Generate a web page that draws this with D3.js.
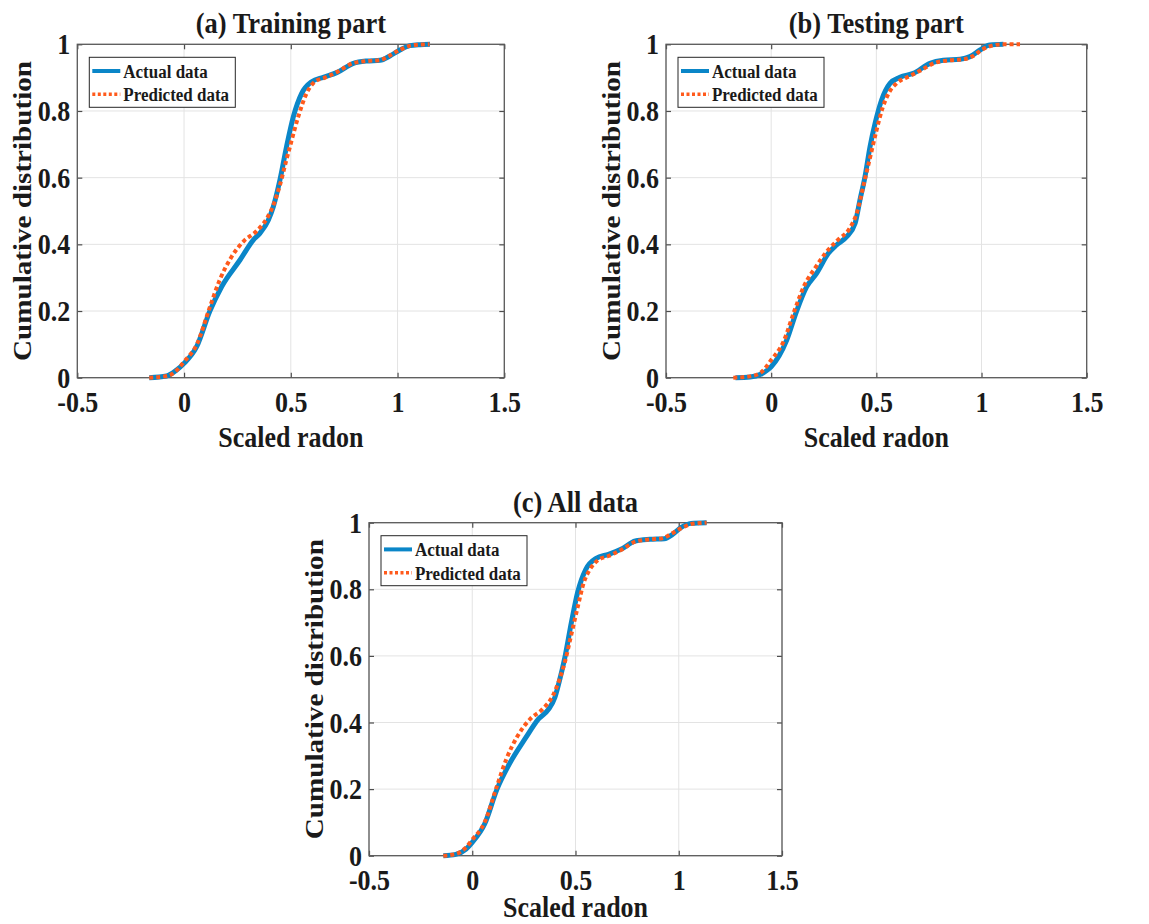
<!DOCTYPE html>
<html>
<head>
<meta charset="utf-8">
<script src="https://cdn.jsdelivr.net/npm/d3@7"></script>
<style>
  body { margin: 0; background: #fff; }
  svg text { font-family: 'Liberation Serif', 'Times New Roman', serif; font-weight: bold; fill: #1a1a1a; }
</style>
</head>
<body>
<div id="chart"></div>
<script>
// axis ticks
const xTicks = [-0.5, 0, 0.5, 1, 1.5];
const xTickLabels = ['-0.5', '0', '0.5', '1', '1.5'];
const yTicks = [0, 0.2, 0.4, 0.6, 0.8, 1];
const yTickLabels = ['0', '0.2', '0.4', '0.6', '0.8', '1'];

const seriesNames = ['Actual data', 'Predicted data'];
const panelTitles = ['(a) Training part', '(b) Testing part', '(c) All data'];
const xLabel = 'Scaled radon';
const yLabel = 'Cumulative distribution';

// (a) training
const trainActualX = [-0.163, -0.082, -0.035, 0.0, 0.059, 0.121, 0.176, 0.262, 0.324, 0.355, 0.395, 0.418, 0.449, 0.48, 0.512, 0.551, 0.598, 0.652, 0.715, 0.793, 0.855, 0.918, 0.964, 1.011, 1.058, 1.105, 1.152];
const trainActualY = [0, 0.005, 0.023, 0.043, 0.093, 0.2, 0.273, 0.353, 0.413, 0.433, 0.473, 0.513, 0.593, 0.693, 0.783, 0.853, 0.888, 0.901, 0.915, 0.943, 0.95, 0.952, 0.965, 0.983, 0.996, 0.999, 1];
const trainPredX = [-0.163, -0.08, -0.03, 0.0, 0.06, 0.12, 0.165, 0.22, 0.28, 0.34, 0.39, 0.42, 0.45, 0.478, 0.496, 0.535, 0.574, 0.613, 0.66, 0.72, 0.79, 0.86, 0.92, 0.96, 1.01, 1.06, 1.1, 1.15];
const trainPredY = [0, 0.005, 0.025, 0.048, 0.1, 0.21, 0.29, 0.36, 0.41, 0.44, 0.48, 0.52, 0.58, 0.65, 0.693, 0.783, 0.853, 0.888, 0.9, 0.918, 0.943, 0.95, 0.953, 0.965, 0.983, 0.996, 0.999, 1];

// (b) testing
const testActualX = [-0.17, -0.1, -0.05, -0.02, 0.0, 0.074, 0.121, 0.169, 0.216, 0.272, 0.311, 0.359, 0.399, 0.422, 0.446, 0.47, 0.494, 0.525, 0.565, 0.612, 0.676, 0.755, 0.818, 0.898, 0.945, 0.993, 1.04, 1.104];
const testActualY = [0, 0.002, 0.01, 0.022, 0.033, 0.113, 0.2, 0.273, 0.313, 0.373, 0.398, 0.423, 0.463, 0.533, 0.603, 0.693, 0.763, 0.833, 0.883, 0.901, 0.913, 0.943, 0.952, 0.955, 0.963, 0.983, 0.998, 1];
const testPredX = [-0.18, -0.1, -0.05, 0.0, 0.06, 0.11, 0.16, 0.21, 0.26, 0.32, 0.37, 0.41, 0.44, 0.47, 0.5, 0.53, 0.56, 0.6, 0.66, 0.72, 0.78, 0.85, 0.92, 0.96, 1.0, 1.05, 1.1, 1.183];
const testPredY = [0, 0.004, 0.015, 0.053, 0.11, 0.2, 0.28, 0.33, 0.375, 0.415, 0.445, 0.5, 0.58, 0.66, 0.74, 0.81, 0.855, 0.885, 0.905, 0.925, 0.945, 0.952, 0.956, 0.965, 0.983, 0.996, 1, 1];

// (c) all data
const allActualX = [-0.14, -0.08, -0.03, 0.0, 0.06, 0.12, 0.175, 0.26, 0.32, 0.37, 0.4, 0.42, 0.45, 0.48, 0.51, 0.55, 0.6, 0.66, 0.72, 0.79, 0.86, 0.93, 0.97, 1.01, 1.06, 1.135];
const allActualY = [0, 0.004, 0.02, 0.04, 0.095, 0.2, 0.27, 0.355, 0.41, 0.44, 0.475, 0.52, 0.6, 0.7, 0.79, 0.86, 0.893, 0.905, 0.92, 0.945, 0.95, 0.952, 0.965, 0.985, 0.998, 1];
const allPredX = [-0.14, -0.08, -0.03, 0.0, 0.06, 0.12, 0.165, 0.22, 0.28, 0.34, 0.39, 0.42, 0.45, 0.48, 0.51, 0.54, 0.57, 0.61, 0.66, 0.72, 0.79, 0.86, 0.92, 0.96, 1.01, 1.06, 1.1, 1.135];
const allPredY = [0, 0.005, 0.025, 0.048, 0.1, 0.21, 0.29, 0.36, 0.41, 0.44, 0.48, 0.525, 0.585, 0.665, 0.745, 0.82, 0.86, 0.888, 0.9, 0.918, 0.943, 0.95, 0.953, 0.965, 0.983, 0.996, 0.999, 1];

const blue = '#0a86c8';
const orange = '#ff5a1c';
// the original figure is a bit taller than wide, stretch text to match
const stretch = 1.12;

const svg = d3.select('#chart').append('svg')
  .attr('width', 1149)
  .attr('height', 924);

const panels = [
  { left: 77.3, top: 44.3, width: 427, height: 333.4, title: panelTitles[0], xlab: 69,
    actual: [trainActualX, trainActualY], pred: [trainPredX, trainPredY] },
  { left: 666, top: 44.3, width: 420.7, height: 333.4, title: panelTitles[1], xlab: 69,
    actual: [testActualX, testActualY], pred: [testPredX, testPredY] },
  { left: 369, top: 522.7, width: 413, height: 333, title: panelTitles[2], xlab: 61,
    actual: [allActualX, allActualY], pred: [allPredX, allPredY] }
];

function zip(xs, ys) {
  return xs.map(function(x, i) { return [x, ys[i]]; });
}

function stretchedText(g, x, y, size, txt) {
  return g.append('text')
    .attr('transform', 'translate(' + x + ',' + y + ') scale(1,' + stretch + ')')
    .style('font-size', size + 'px')
    .text(txt);
}

function drawPanel(p) {
  const g = svg.append('g')
    .attr('transform', 'translate(' + p.left + ',' + p.top + ')');

  const x = d3.scaleLinear().domain([-0.5, 1.5]).range([0, p.width]);
  const y = d3.scaleLinear().domain([0, 1]).range([p.height, 0]);

  // grid
  g.selectAll('.gx').data(xTicks).enter().append('line')
    .attr('x1', d => x(d)).attr('x2', d => x(d))
    .attr('y1', 0).attr('y2', p.height)
    .attr('stroke', '#e3e3e3').attr('stroke-width', 1);
  g.selectAll('.gy').data(yTicks).enter().append('line')
    .attr('x1', 0).attr('x2', p.width)
    .attr('y1', d => y(d)).attr('y2', d => y(d))
    .attr('stroke', '#e3e3e3').attr('stroke-width', 1);

  // axes, ticks point inwards like matlab
  const xAxis = d3.axisBottom(x).tickValues(xTicks)
    .tickFormat((d, i) => xTickLabels[i])
    .tickSizeInner(-5).tickSizeOuter(0);
  const yAxis = d3.axisLeft(y).tickValues(yTicks)
    .tickFormat((d, i) => yTickLabels[i])
    .tickSizeInner(-5).tickSizeOuter(0);

  const gx = g.append('g')
    .attr('transform', 'translate(0,' + p.height + ')')
    .call(xAxis);
  const gy = g.append('g').call(yAxis);

  g.append('g').call(d3.axisTop(x).tickValues(xTicks).tickFormat('').tickSizeInner(-5).tickSizeOuter(0));
  g.append('g').attr('transform', 'translate(' + p.width + ',0)')
    .call(d3.axisRight(y).tickValues(yTicks).tickFormat('').tickSizeInner(-5).tickSizeOuter(0));

  g.selectAll('.domain').remove();
  g.selectAll('.tick line').attr('stroke', '#4d4d4d').attr('stroke-width', 1.2);

  gx.selectAll('text')
    .attr('y', 0).attr('dy', null)
    .attr('transform', 'translate(0,34) scale(1,' + stretch + ')')
    .style('font-size', '26px')
    .attr('fill', '#1a1a1a');
  gy.selectAll('text')
    .attr('x', 0).attr('dy', null)
    .attr('transform', 'translate(-7,9.5) scale(1,' + stretch + ')')
    .style('font-size', '26px')
    .attr('fill', '#1a1a1a');

  g.append('rect')
    .attr('width', p.width).attr('height', p.height)
    .attr('fill', 'none').attr('stroke', '#5a5a5a').attr('stroke-width', 1.3);

  const line = d3.line()
    .x(d => x(d[0]))
    .y(d => y(d[1]))
    .curve(d3.curveMonotoneX);

  g.append('path')
    .attr('d', line(zip(p.actual[0], p.actual[1])))
    .attr('fill', 'none').attr('stroke', blue).attr('stroke-width', 5);
  g.append('path')
    .attr('d', line(zip(p.pred[0], p.pred[1])))
    .attr('fill', 'none').attr('stroke', orange).attr('stroke-width', 4)
    .attr('stroke-dasharray', '4,3');

  // title and labels
  stretchedText(g, p.width / 2, -11, 26.5, p.title)
    .attr('text-anchor', 'middle')
    .attr('fill', '#000');

  stretchedText(g, p.width / 2, p.height + p.xlab, 26, xLabel)
    .attr('text-anchor', 'middle');

  g.append('text')
    .attr('transform', 'translate(-46,' + (p.height / 2) + ') rotate(-90) scale(' + stretch + ',1)')
    .attr('text-anchor', 'middle')
    .style('font-size', '26px')
    .text(yLabel);

  // legend
  const lg = g.append('g').attr('transform', 'translate(12,13)');
  lg.append('rect')
    .attr('width', 146).attr('height', 50)
    .attr('fill', '#fff').attr('stroke', '#262626').attr('stroke-width', 1);
  const styles = [
    { color: blue, dash: null, w: 4 },
    { color: orange, dash: '3,2.5', w: 3.5 }
  ];
  seriesNames.forEach(function(name, i) {
    const cy = 13.7 + i * 23.3;
    lg.append('line')
      .attr('x1', 3).attr('x2', 31)
      .attr('y1', cy).attr('y2', cy)
      .attr('stroke', styles[i].color)
      .attr('stroke-width', styles[i].w)
      .attr('stroke-dasharray', styles[i].dash);
    stretchedText(lg, 34, cy + 6.8, 17, name)
      .attr('fill', '#000');
  });
}

panels.forEach(drawPanel);
</script>
</body>
</html>
